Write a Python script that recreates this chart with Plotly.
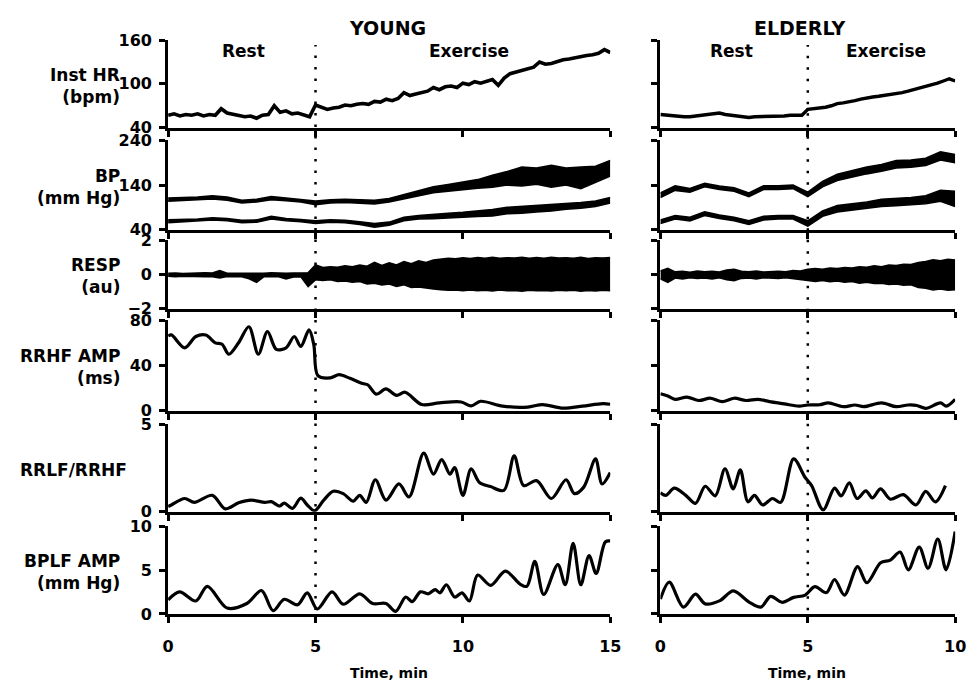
import plotly.graph_objects as go

W, H = 977, 692
FONT = "DejaVu Sans"

# ---------------- data ----------------
# sampling times (min)
t_hr_young = [round(0.2 * i, 2) for i in range(76)]
t_hr_old = [round(0.2 * i, 2) for i in range(51)]
t_bp_young = [round(0.5 * i, 2) for i in range(31)]
t_bp_old = [round(0.5 * i, 2) for i in range(21)]
t_resp_young = [round(0.25 * i, 2) for i in range(61)]
t_resp_old = [round(0.25 * i, 2) for i in range(41)]

# Instantaneous heart rate (bpm)
hr_young = [57, 59, 56, 58, 57, 59, 56, 58, 57, 66,
            60, 58, 57, 55, 56, 53, 57, 58, 70, 61,
            63, 59, 60, 57, 55, 71, 68, 65, 67, 68,
            71, 70, 72, 73, 72, 76, 75, 79, 77, 80,
            88, 84, 86, 88, 90, 95, 92, 96, 97, 95,
            101, 99, 103, 101, 104, 106, 98, 108, 114, 116,
            118, 121, 123, 130, 127, 128, 131, 133, 134, 136,
            138, 139, 140, 142, 147, 143]
hr_old = [58, 57, 56, 56, 55, 55, 56, 57, 58, 59,
          60, 58, 57, 56, 55, 54, 55, 55, 56, 55,
          56, 56, 57, 57, 57, 65, 66, 66, 68, 70,
          73, 74, 75, 77, 79, 81, 82, 83, 84, 85,
          87, 88, 90, 92, 94, 97, 99, 101, 104, 107,
          104]

# Blood pressure (mm Hg): lower / upper edge of the systolic and diastolic traces
bp_sys_lo_young = [104, 106, 107, 109, 106, 100, 102, 107, 105, 102, 96, 100, 101, 100, 98, 102,
                   109, 116, 123, 126, 130, 133, 135, 140, 138, 142, 135, 140, 132, 146, 160]
bp_sys_hi_young = [111, 112, 113, 116, 113, 106, 108, 114, 111, 108, 104, 107, 108, 107, 106, 110,
                   119, 127, 136, 141, 147, 152, 162, 170, 180, 178, 184, 178, 180, 182, 195]
bp_dia_lo_young = [56, 58, 59, 62, 60, 56, 57, 64, 60, 58, 54, 57, 56, 52, 46, 50,
                   60, 64, 65, 66, 68, 70, 71, 76, 77, 80, 82, 86, 88, 92, 100]
bp_dia_hi_young = [62, 63, 64, 67, 65, 61, 62, 70, 65, 63, 60, 62, 61, 58, 54, 57,
                   68, 72, 75, 77, 79, 82, 85, 90, 92, 95, 96, 98, 101, 104, 112]
bp_sys_lo_old = [112, 128, 124, 136, 130, 126, 114, 130, 130, 132, 114,
                 136, 150, 158, 165, 171, 178, 180, 184, 196, 190]
bp_sys_hi_old = [122, 138, 132, 144, 138, 134, 122, 138, 138, 140, 124,
                 148, 164, 172, 180, 186, 195, 196, 200, 214, 208]
bp_dia_lo_old = [54, 64, 60, 72, 65, 60, 52, 62, 64, 64, 48,
                 70, 80, 84, 88, 92, 94, 96, 98, 104, 92]
bp_dia_hi_old = [62, 72, 68, 80, 73, 68, 60, 70, 72, 72, 60,
                 82, 94, 98, 102, 108, 110, 112, 116, 128, 126]

# Respiration (au): lower / upper envelope
resp_hi_young = [0.06, 0.08, 0.05, 0.07, 0.06, 0.09, 0.08, 0.22, 0.07, 0.06,
                 0.08, 0.05, 0.07, 0.06, 0.10, 0.07, 0.06, 0.08, 0.07, 0.10,
                 0.55, 0.40, 0.45, 0.42, 0.50, 0.45, 0.55, 0.48, 0.70, 0.52,
                 0.68, 0.55, 0.75, 0.62, 0.80, 0.70, 0.85, 0.90, 0.95, 0.92,
                 0.98, 0.93, 0.99, 0.95, 1.00, 0.94, 0.98, 0.96, 1.00, 0.95,
                 0.99, 0.94, 1.00, 0.96, 0.98, 0.95, 1.00, 0.93, 0.98, 0.96, 0.99]
resp_lo_young = [-0.10, -0.12, -0.09, -0.11, -0.10, -0.13, -0.12, -0.20, -0.11, -0.10,
                 -0.12, -0.25, -0.45, -0.12, -0.11, -0.13, -0.25, -0.14, -0.12, -0.70,
                 -0.30, -0.35, -0.30, -0.40, -0.38, -0.45, -0.40, -0.55, -0.50, -0.60,
                 -0.55, -0.70, -0.60, -0.75, -0.72, -0.80, -0.85, -0.88, -0.92, -0.90,
                 -0.95, -0.90, -0.94, -0.92, -0.96, -0.90, -0.95, -0.93, -0.97, -0.92,
                 -0.95, -0.93, -0.96, -0.91, -0.95, -0.92, -0.97, -0.93, -0.96, -0.92, -0.95]
resp_hi_old = [0.20, 0.35, 0.15, 0.18, 0.12, 0.20, 0.15, 0.18, 0.14, 0.25,
               0.30, 0.18, 0.15, 0.20, 0.14, 0.16, 0.18, 0.15, 0.22, 0.20,
               0.30, 0.35, 0.30, 0.38, 0.35, 0.40, 0.38, 0.45, 0.42, 0.50,
               0.45, 0.55, 0.52, 0.60, 0.58, 0.70, 0.75, 0.85, 0.80, 0.88, 0.85]
resp_lo_old = [-0.25, -0.45, -0.20, -0.25, -0.18, -0.22, -0.20, -0.25, -0.18, -0.30,
               -0.35, -0.22, -0.20, -0.25, -0.18, -0.20, -0.22, -0.18, -0.25, -0.30,
               -0.35, -0.40, -0.35, -0.42, -0.38, -0.45, -0.40, -0.50, -0.45, -0.52,
               -0.50, -0.58, -0.55, -0.62, -0.60, -0.75, -0.80, -0.90, -0.85, -0.92, -0.88]

# RR high-frequency amplitude (ms)
t_rrhf_young = [0, 0.11, 0.56, 0.94, 1.28, 1.6, 1.83, 2.06, 2.39, 2.74, 3.06, 3.37, 3.67, 4.0,
                4.28, 4.5, 4.78, 4.94, 5.08, 5.5, 5.8, 6.17, 6.6, 6.78, 7.06, 7.39, 7.75, 8.04,
                8.6, 9.2, 9.94, 10.28, 10.6, 11.35, 12.2, 12.7, 13.4, 14.06, 14.75, 15]
rrhf_young = [66, 67, 55.6, 65.6, 66.9, 60, 58.7, 49.9, 60, 74.2, 49.9, 70, 54.2, 55.6,
              65.6, 56.8, 71.4, 58.7, 31, 29, 31.8, 28.6, 24, 22.7, 14.6, 19.2, 13.5, 16.3,
              5.4, 6.9, 7.7, 4.2, 8.3, 4, 3.2, 5.4, 2.2, 4, 6.2, 5.7]
t_rrhf_old = [0, 0.25, 0.5, 0.9, 1.3, 1.7, 2.1, 2.5, 2.9, 3.3, 3.7, 4.2, 4.7, 5.0, 5.4, 5.7,
              6.2, 6.6, 6.9, 7.5, 8.0, 8.4, 8.7, 9.0, 9.5, 9.7, 10.0]
rrhf_old = [15, 13, 10, 12, 9, 11, 8, 11, 9, 10, 8, 6, 4, 5, 5.2, 6.9,
            3.5, 5, 3.5, 6.9, 3.5, 5, 4.6, 2, 6.9, 4, 10]

# RRLF / RRHF ratio
t_ratio_young = [0, 0.11, 0.56, 0.89, 1.5, 1.94, 2.39, 2.83, 3.28, 3.5, 3.78, 3.94, 4.22, 4.5,
                 4.72, 4.97, 5.28, 5.6, 5.94, 6.28, 6.5, 6.72, 7.03, 7.39, 7.83, 8.17, 8.67,
                 9.0, 9.28, 9.56, 9.72, 10.0, 10.28, 10.56, 10.94, 11.39, 11.74, 12.06, 12.5,
                 13.0, 13.5, 13.78, 14.1, 14.5, 14.72, 15]
ratio_young = [0.3, 0.39, 0.76, 0.54, 0.94, 0.17, 0.52, 0.67, 0.54, 0.58, 0.33, 0.5, 0.2, 0.78,
               0.39, 0.06, 0.67, 1.17, 1.04, 0.61, 0.94, 0.54, 1.83, 0.67, 1.59, 0.85, 3.35,
               2.15, 2.98, 2.15, 2.52, 0.94, 2.46, 1.68, 1.44, 1.22, 3.2, 1.5, 1.78,
               0.76, 1.83, 1.04, 1.41, 3.02, 1.59, 2.24]
t_ratio_old = [0, 0.19, 0.47, 0.86, 1.19, 1.52, 1.86, 2.19, 2.47, 2.71, 2.97, 3.19, 3.47, 3.8,
               4.08, 4.52, 4.91, 5.13, 5.52, 5.91, 6.13, 6.41, 6.67, 6.97, 7.19, 7.47, 7.8,
               8.24, 8.67, 9.0, 9.33, 9.67]
ratio_old = [1.09, 0.94, 1.35, 0.94, 0.48, 1.46, 0.91, 2.46, 1.31, 2.39, 0.57, 0.94, 0.39, 0.76,
             0.54, 3.02, 1.96, 1.5, 0.11, 1.35, 0.91, 1.65, 0.76, 1.2, 0.8, 1.31, 0.72,
             0.98, 0.39, 1.17, 0.57, 1.5]

# BP low-frequency amplitude (mm Hg)
t_bplf_young = [0, 0.39, 0.94, 1.33, 2.0, 2.67, 3.17, 3.56, 3.94, 4.39, 4.72, 5.06, 5.56, 5.94,
                6.5, 6.94, 7.39, 7.72, 8.06, 8.28, 8.56, 8.83, 9.06, 9.22, 9.44, 9.72, 9.97,
                10.22, 10.5, 10.94, 11.44, 11.94, 12.17, 12.44, 12.74, 13.22, 13.47, 13.74,
                14.0, 14.28, 14.52, 14.83, 15]
bplf_young = [1.6, 2.52, 1.48, 3.15, 0.67, 1.19, 2.67, 0.37, 1.67, 1.04, 2.41, 0.56, 2.52, 1.11,
              2.3, 1.19, 1.19, 0.3, 1.93, 1.41, 2.52, 2.3, 2.78, 2.41, 3.33, 1.93, 2.41,
              1.48, 4.44, 3.26, 4.89, 3.41, 3.15, 6.0, 2.22, 5.63, 3.33, 8.07,
              3.33, 6.67, 4.63, 8.22, 8.33]
t_bplf_old = [0, 0.3, 0.78, 1.19, 1.52, 2.02, 2.47, 3.02, 3.41, 3.74, 4.13, 4.52, 4.91, 5.24,
              5.63, 5.91, 6.24, 6.69, 7.0, 7.47, 7.8, 8.13, 8.41, 8.78, 9.08, 9.41, 9.69, 10.0]
bplf_old = [1.7, 3.63, 0.78, 2.26, 1.15, 1.52, 2.63, 1.33, 0.78, 2.0, 1.33, 1.89, 2.15, 3.11,
            2.44, 3.93, 2.15, 5.41, 3.56, 5.85, 6.15, 7.07, 5.04, 7.63, 5.22, 8.56, 5.04, 9.41]

# axes definitions
row_labels = ["Inst HR<br>(bpm)", "BP<br>(mm Hg)", "RESP<br>(au)", "RRHF AMP<br>(ms)",
              "RRLF/RRHF", "BPLF AMP<br>(mm Hg)"]
y_ranges = [[40, 160], [40, 240], [-2, 2], [0, 80], [0, 5], [0, 10]]
y_ticks = [[40, 100, 160], [40, 140, 240], [-2, 0, 2], [0, 40, 80], [0, 5], [0, 5, 10]]
x_ranges = [[0, 15], [0, 10]]
x_ticks = [[0, 5, 10, 15], [0, 5, 10]]
group_titles = ["YOUNG", "ELDERLY"]
phase_labels = ["Rest", "Exercise"]

# ---------------- layout geometry (pixels) ----------------
rows_px = [(32, 122), (135, 227), (238, 308), (320, 413), (427, 517), (532, 622)]
cols_px = [(165, 615), (666, 966)]


def fx(p):
    return p / W


def fy(p):
    return 1 - p / H


def ax_suffix(r, c):
    k = r * 2 + c + 1
    return "" if k == 1 else str(k)


fig = go.Figure()


def add_line(r, c, x, y, width=3.2, spline=False):
    s = ax_suffix(r, c)
    fig.add_trace(go.Scatter(
        x=x, y=y, xaxis="x" + s, yaxis="y" + s, mode="lines",
        line=dict(color="black", width=width, shape="spline" if spline else "linear",
                  smoothing=0.9 if spline else None),
        showlegend=False, hoverinfo="skip"))


def add_band(r, c, x, lo, hi, width=1.6):
    s = ax_suffix(r, c)
    fig.add_trace(go.Scatter(
        x=x, y=lo, xaxis="x" + s, yaxis="y" + s, mode="lines",
        line=dict(color="black", width=width), showlegend=False, hoverinfo="skip"))
    fig.add_trace(go.Scatter(
        x=x, y=hi, xaxis="x" + s, yaxis="y" + s, mode="lines", fill="tonexty",
        fillcolor="black", line=dict(color="black", width=width),
        showlegend=False, hoverinfo="skip"))


# row 0: HR
add_line(0, 0, t_hr_young, hr_young, width=3.6)
add_line(0, 1, t_hr_old, hr_old, width=3.4)
# row 1: BP
add_band(1, 0, t_bp_young, bp_sys_lo_young, bp_sys_hi_young)
add_band(1, 0, t_bp_young, bp_dia_lo_young, bp_dia_hi_young)
add_band(1, 1, t_bp_old, bp_sys_lo_old, bp_sys_hi_old)
add_band(1, 1, t_bp_old, bp_dia_lo_old, bp_dia_hi_old)
# row 2: RESP
add_band(2, 0, t_resp_young, resp_lo_young, resp_hi_young, width=1.8)
add_band(2, 1, t_resp_old, resp_lo_old, resp_hi_old, width=1.8)
# row 3: RRHF
add_line(3, 0, t_rrhf_young, rrhf_young, spline=True)
add_line(3, 1, t_rrhf_old, rrhf_old, spline=True)
# row 4: ratio
add_line(4, 0, t_ratio_young, ratio_young, spline=True)
add_line(4, 1, t_ratio_old, ratio_old, spline=True)
# row 5: BPLF
add_line(5, 0, t_bplf_young, bplf_young, spline=True)
add_line(5, 1, t_bplf_old, bplf_old, spline=True)

tickfont = dict(family=FONT, size=16, color="black", weight="bold")
layout = dict(
    width=W, height=H, margin=dict(l=0, r=0, t=0, b=0),
    paper_bgcolor="white", plot_bgcolor="white", showlegend=False,
    font=dict(family=FONT, color="black"),
)
for r in range(6):
    for c in range(2):
        s = ax_suffix(r, c)
        layout["xaxis" + s] = dict(
            domain=[fx(cols_px[c][0]), fx(cols_px[c][1])], range=x_ranges[c],
            anchor="y" + s, showline=True, linecolor="black", linewidth=3,
            ticks="outside", ticklen=6, tickwidth=2.5, tickcolor="black",
            tickmode="array", tickvals=x_ticks[c], showticklabels=(r == 5),
            tickfont=tickfont, ticklabelstandoff=10,
            showgrid=False, zeroline=False, fixedrange=True)
        layout["yaxis" + s] = dict(
            domain=[fy(rows_px[r][1]), fy(rows_px[r][0])], range=y_ranges[r],
            anchor="x" + s, showline=True, linecolor="black", linewidth=3,
            ticks="outside", ticklen=6, tickwidth=2.5, tickcolor="black",
            tickmode="array", tickvals=y_ticks[r], showticklabels=(c == 0),
            tickfont=tickfont, ticklabelstandoff=4,
            showgrid=False, zeroline=False, fixedrange=True)

annotations = []
label_font = dict(family=FONT, size=17, color="black", weight="bold")
for r, lab in enumerate(row_labels):
    xr = 125 if "<br>" not in lab else 118
    annotations.append(dict(
        text=lab, xref="paper", yref="paper", x=fx(xr), y=fy((rows_px[r][0] + rows_px[r][1]) / 2 + 2),
        xanchor="right", yanchor="middle", align="right", showarrow=False, font=label_font))

title_x = [388, 808]
for c in range(2):
    annotations.append(dict(
        text=group_titles[c], xref="paper", yref="paper", x=fx(title_x[c]), y=fy(20),
        xanchor="center", yanchor="middle", showarrow=False,
        font=dict(family=FONT, size=19, color="black", weight="bold")))
    annotations.append(dict(
        text="Time, min", xref="paper", yref="paper", x=fx(title_x[c] + (2 if c == 0 else 7)), y=fy(683),
        xanchor="center", yanchor="middle", showarrow=False,
        font=dict(family=FONT, size=14, color="black", weight="bold")))

phase_pos = [(242, 471), (738, 896)]
for c in range(2):
    for i in range(2):
        annotations.append(dict(
            text=phase_labels[i], xref="paper", yref="paper", x=fx(phase_pos[c][i]), y=fy(43),
            xanchor="center", yanchor="middle", showarrow=False,
            font=dict(family=FONT, size=17, color="black", weight="bold")))
layout["annotations"] = annotations

layout["shapes"] = [
    dict(type="line", xref="x", yref="paper", x0=5, x1=5, y0=fy(618), y1=fy(37),
         line=dict(color="black", width=2.5, dash="2.5px,9px")),
    dict(type="line", xref="x2", yref="paper", x0=5, x1=5, y0=fy(630), y1=fy(37),
         line=dict(color="black", width=2.5, dash="2.5px,9px")),
]

fig.update_layout(**layout)
fig.write_html("out.html")
